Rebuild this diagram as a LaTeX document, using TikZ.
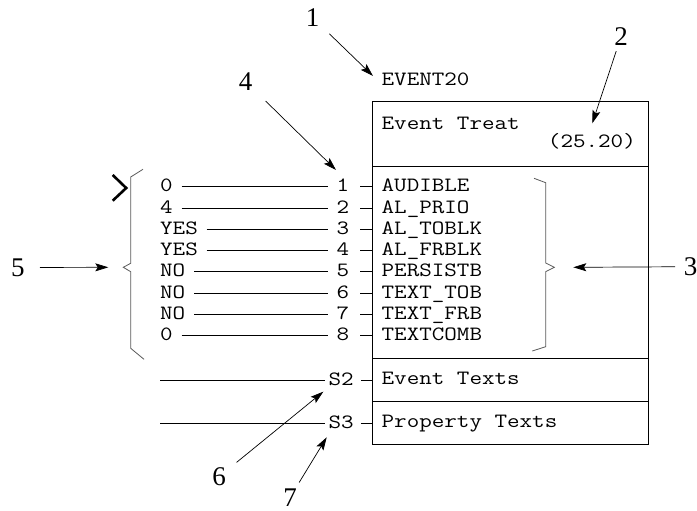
\documentclass[tikz,border=0pt]{standalone}
\usepackage{fontspec}
\newfontfamily\monofam{Latin Modern Mono}[FakeStretch=1.2]
\newfontfamily\seriffam{Liberation Serif}
\usetikzlibrary{arrows.meta}
\newcommand\mymono{\monofam\fontsize{20.3pt}{20.3pt}\selectfont}
\newcommand\mylab{\seriffam\fontsize{27pt}{27pt}\selectfont}
\begin{document}
\begin{tikzpicture}[x=1pt,y=-1pt,
  mono/.style={font=\mymono, inner sep=0pt, text height=12pt, text depth=2pt},
  lab/.style={font=\mylab, inner sep=0pt},
  sect/.style={draw, line width=1pt, minimum width=276pt, anchor=north west, inner sep=0pt, outer sep=0pt},
  conn/.style={line width=0.9pt},
  arr/.style={line width=0.7pt, -{Stealth[length=13pt,width=8pt,inset=2.5pt]}},
  brace/.style={draw=black!65, line width=0.8pt},
]
\useasboundingbox (0,0) rectangle (697,511);

% box sections
\node[sect, minimum height=64pt] (hdr) at (372,102) {};
\node[sect, minimum height=192.7pt] (attrs) at (372,166) {};
\node[sect, minimum height=43pt] (evt) at (372,358.7) {};
\node[sect, minimum height=42.6pt] (prop) at (372,401.7) {};

% texts
\node[mono, anchor=base west] (ev20) at (381.5,85) {EVENT20};
\node[mono, anchor=base west] (treat) at (381.5,130) {Event Treat};
\node[mono, anchor=base east] (vers) at (636,147) {(25.20)};

\foreach \v/\a [count=\i] in {0/AUDIBLE, 4/AL\_PRIO, YES/AL\_TOBLK, YES/AL\_FRBLK, NO/PERSISTB, NO/TEXT\_TOB, NO/TEXT\_FRB, 0/TEXTCOMB} {
  \pgfmathsetmacro\yy{191.7+21.3*(\i-1)}
  \node[mono, anchor=base west] (v\i) at (160,\yy) {\v};
  \node[mono, anchor=base] (n\i) at (343,\yy) {\i};
  \node[mono, anchor=base west] (a\i) at (381.5,\yy) {\a};
  \draw[conn, shorten <=8.6pt, shorten >=8.7pt] (v\i) -- (n\i);
  \draw[conn, shorten <=11pt] (n\i.east) -- (n\i.east -| attrs.west);
}

\node[mono, anchor=base west] (s2) at (328.5,385) {S2};
\node[mono, anchor=base west] (s3) at (328.5,428.3) {S3};
\node[mono, anchor=base west] (et) at (381.5,384.3) {Event Texts};
\node[mono, anchor=base west] (pt) at (381.5,427) {Property Texts};
\coordinate (fstart) at (160,0);
\draw[conn, shorten >=3.5pt] (s2.west -| fstart) -- (s2.west);
\draw[conn, shorten >=3.5pt] (s3.west -| fstart) -- (s3.west);
\draw[conn, shorten <=7pt] (s2.east) -- (s2.east -| evt.west);
\draw[conn, shorten <=7pt] (s3.east) -- (s3.east -| prop.west);

% braces and marker
\draw[brace] (143,169.3) -- (130.7,177) -- (130.7,263.3) -- (123.3,267.3) -- (130.7,271.7) -- (130.7,348.3) -- (144,359.3);
\draw[brace] (534,178.3) -- (545.7,182.7) -- (545.7,263) -- (554.3,267.3) -- (545.7,271.7) -- (545.7,346.7) -- (532.3,351);
\draw[line width=2.6pt, line join=miter] (112.7,175) -- (126.2,188) -- (112.7,200.7);

% labels
\node[lab] (l1) at (312.5,17.5) {1};
\node[lab] (l2) at (621,36.7) {2};
\node[lab] (l3) at (690.5,266.7) {3};
\node[lab] (l4) at (245.5,81.3) {4};
\node[lab] (l5) at (18,267.5) {5};
\node[lab] (l6) at (219,476.7) {6};
\node[lab] (l7) at (290,497.5) {7};

\coordinate (h1) at (373,76);
\coordinate (h2) at (592.3,123.3);
\coordinate (h3) at (573.3,267.3);
\coordinate (h4) at (336,170);
\coordinate (h5) at (108.3,267.3);
\coordinate (h6) at (323.3,391.7);
\coordinate (h7) at (326.7,437.3);

\draw[arr, shorten <=23.4pt] (l1.center) -- (h1);
\draw[arr, shorten <=15.2pt] (l2.center) -- (h2);
\draw[arr, shorten <=15.5pt] (l3.center) -- (h3);
\draw[arr, shorten <=28.2pt] (l4.center) -- (h4);
\draw[arr, shorten <=22pt] (l5.center) -- (h5);
\draw[arr, shorten <=22.6pt] (l6.center) -- (h6);
\draw[arr, shorten <=17.5pt] (l7.center) -- (h7);
\end{tikzpicture}
\end{document}
